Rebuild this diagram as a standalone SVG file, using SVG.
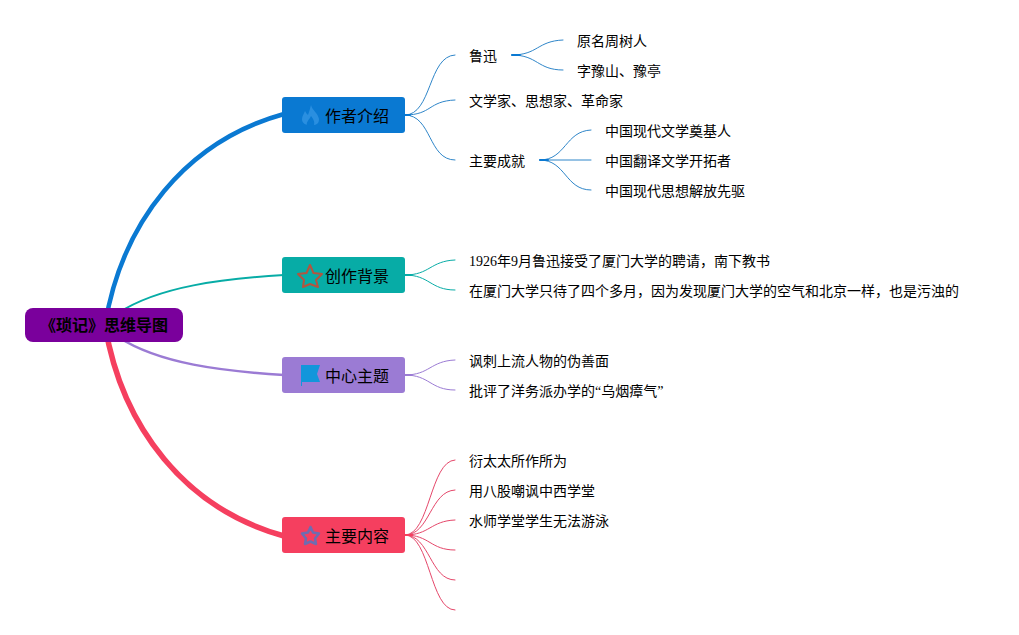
<svg xmlns="http://www.w3.org/2000/svg" width="1019" height="635" viewBox="0 0 1019 635">
<style>
text{font-family:"Liberation Serif","Noto Sans CJK SC",serif;fill:#000}
.l{font-size:14px}
.t{font-size:16px}
.r{font-size:16px;font-weight:bold}
.c{fill:none;stroke-linecap:round}
.b{stroke:#0a79d2}
.g{stroke:#07aca6}
.p{stroke:#9b7bd4}
.d{stroke:#f53f5f}
.f{stroke-width:1}
.b.f{stroke:#2f86c9}
.d.f{stroke:#e5476a}
</style>
<rect width="1019" height="635" fill="#fff"/>
<g id="connectors">
<path class="c b" stroke-width="4.500" d="M105,325C122,222 186,141 284,114"/>
<path class="c g" stroke-width="2" d="M118,313C160,286 222,279 284,275"/>
<path class="c p" stroke-width="2.500" d="M118,337C160,364 222,371 284,375"/>
<path class="c d" stroke-width="5.500" d="M105,325C122,428 186,509 284,536"/>
<g>
<path class="c b f" d="M405,115C432,115 428,56 455,55"/>
<path class="c b f" d="M405,115C432,115 428,101 455,100"/>
<path class="c b f" d="M405,115C432,115 428,160 455,160"/>
<path class="c b" stroke-width="2" d="M405,115H410"/>
<path class="c b f" d="M512,55C538,55 537,41 563,40"/>
<path class="c b f" d="M512,55C538,55 537,70 563,70"/>
<path class="c b" stroke-width="2" d="M512,55H520"/>
<path class="c b f" d="M540,160C566,160 565,131 591,130"/>
<path class="c b f" stroke-width="1.500" d="M540,160H591"/>
<path class="c b f" d="M540,160C566,160 565,190 591,190"/>
<path class="c b" stroke-width="2" d="M540,160H548"/>
</g>
<g>
<path class="c g f" d="M405,275C430,275 430,261 455,260"/>
<path class="c g f" d="M405,275C430,275 430,290 455,290"/>
<path class="c g" stroke-width="2" d="M405,275H411"/>
</g>
<g>
<path class="c p f" d="M405,375C430,375 430,361 455,360"/>
<path class="c p f" d="M405,375C430,375 430,390 455,390"/>
<path class="c p" stroke-width="2" d="M405,375H411"/>
</g>
<g>
<path class="c d f" d="M405,535C430,535 430,461 455,460"/>
<path class="c d f" d="M405,535C430,535 430,491 455,490"/>
<path class="c d f" d="M405,535C430,535 430,521 455,520"/>
<path class="c d f" d="M405,535C430,535 430,550 455,550"/>
<path class="c d f" d="M405,535C430,535 430,580 455,580"/>
<path class="c d f" d="M405,535C430,535 430,610 455,610"/>
<path class="c d" stroke-width="2" d="M405,535H412"/>
</g>
</g>
<g id="root"><rect x="25" y="308" width="158" height="34" rx="8" fill="#7a009c"/><text class="r" x="40" y="331">《琐记》思维导图</text></g>
<g id="topic-author"><rect x="282" y="97" width="123" height="36" rx="3" fill="#0a79d2"/>
<path d="M311,105C312,110 318,113 319,119C319,125 315,125 311,125C306,125 302,124 302,119C302,116 304,114 305,111C306,113 307,114 308,115C309,112 310,109 311,105Z" fill="#2a8fe0"/>
<path d="M311,116C313,119 315,121 314,125H307C306,122 309,120 311,116Z" fill="#0a79d2"/>
<text class="t" x="325" y="122">作者介绍</text></g>
<g id="topic-background"><rect x="282" y="257" width="123" height="36" rx="3" fill="#07aca6"/>
<path d="M310,265L313.500,273L322,274L316,280L318,287L310,284L303,287L304,280L298,274L306.500,273Z" fill="none" stroke="#b2553f" stroke-width="2" stroke-linejoin="round"/>
<text class="t" x="325" y="282">创作背景</text></g>
<g id="topic-theme"><rect x="282" y="357" width="123" height="36" rx="3" fill="#9b7bd4"/>
<path d="M301,365H320L317,374L320,382H302V386H301Z" fill="#1296db"/>
<text class="t" x="325" y="382">中心主题</text></g>
<g id="topic-content"><rect x="282" y="517" width="123" height="36" rx="3" fill="#f53f5f"/>
<path d="M310.500,527L313,532.500L319,533.500L315,538.500L316,544L310.500,541.500L305,544L306,538.500L302,533.500L308,532.500Z" fill="none" stroke="#6f6cb0" stroke-width="2.500" stroke-linejoin="round"/>
<text class="t" x="325" y="542">主要内容</text></g>
<g id="n1"><text class="l" x="469" y="61">鲁迅</text></g>
<g id="n2"><text class="l" x="577" y="46">原名周树人</text></g>
<g id="n3"><text class="l" x="577" y="76">字豫山、豫亭</text></g>
<g id="n4"><text class="l" x="469" y="106">文学家、思想家、革命家</text></g>
<g id="n5"><text class="l" x="469" y="166">主要成就</text></g>
<g id="n6"><text class="l" x="605" y="136">中国现代文学奠基人</text></g>
<g id="n7"><text class="l" x="605" y="166">中国翻译文学开拓者</text></g>
<g id="n8"><text class="l" x="605" y="196">中国现代思想解放先驱</text></g>
<g id="n9"><text class="l" x="469" y="266">1926年9月鲁迅接受了厦门大学的聘请，南下教书</text></g>
<g id="n10"><text class="l" x="469" y="296">在厦门大学只待了四个多月，因为发现厦门大学的空气和北京一样，也是污浊的</text></g>
<g id="n11"><text class="l" x="469" y="366">讽刺上流人物的伪善面</text></g>
<g id="n12"><text class="l" x="469" y="396">批评了洋务派办学的“乌烟瘴气”</text></g>
<g id="n13"><text class="l" x="469" y="466">衍太太所作所为</text></g>
<g id="n14"><text class="l" x="469" y="496">用八股嘲讽中西学堂</text></g>
<g id="n15"><text class="l" x="469" y="526">水师学堂学生无法游泳</text></g>
</svg>
